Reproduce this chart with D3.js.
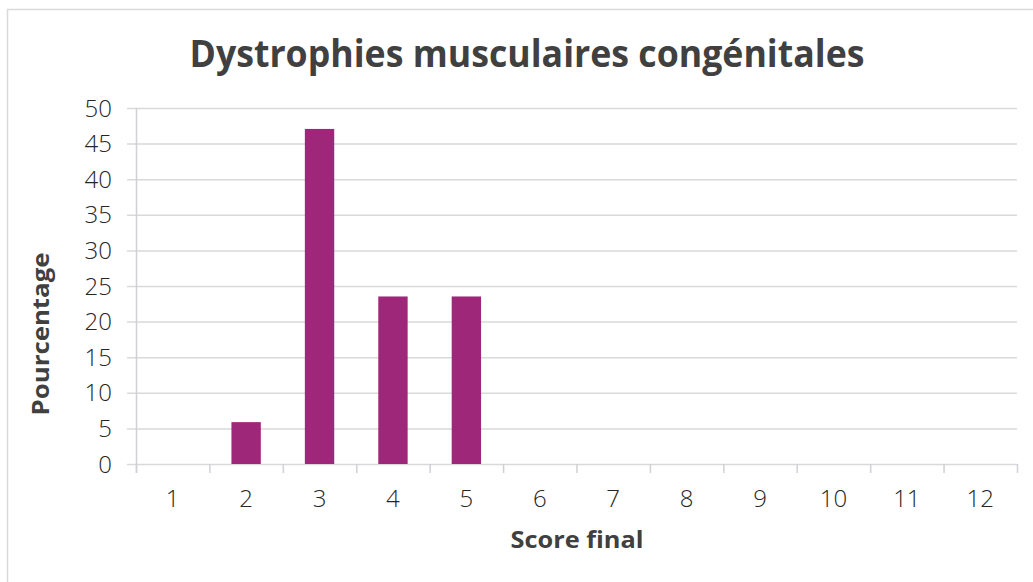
<!DOCTYPE html>
<html>
<head>
<meta charset="utf-8">
<script src="https://cdn.jsdelivr.net/npm/d3@7"></script>
<style>
  html, body { margin: 0; padding: 0; background: #fff; }
  svg { display: block; }
</style>
</head>
<body>
<svg id="chart" width="1033" height="582"></svg>
<script>
const categories = ["1","2","3","4","5","6","7","8","9","10","11","12"];
const values = [0, 5.88, 47.06, 23.53, 23.53, 0, 0, 0, 0, 0, 0, 0];
const yTicks = [0, 5, 10, 15, 20, 25, 30, 35, 40, 45, 50];
const title = "Dystrophies musculaires congénitales";
const xTitle = "Score final";
const yTitle = "Pourcentage";

const svg = d3.select("#chart");
const W = 1033, H = 582;
const m = { left: 136, right: 1017, top: 108, bottom: 464 };

// outer border
svg.append("rect").attr("x", 7.5).attr("y", 9.5).attr("width", W).attr("height", H)
  .attr("fill", "#fff").attr("stroke", "#d9d9d9").attr("stroke-width", 1.5);

const x = d3.scaleBand().domain(categories).range([m.left, m.right]).paddingInner(0.6).paddingOuter(0.3);
const xc = d3.scaleBand().domain(categories).range([m.left, m.right]);
const y = d3.scaleLinear().domain([0, 50]).range([m.bottom, m.top]);

const textFont = "'Open Sans', 'Lato', sans-serif";

// gridlines
svg.append("g").selectAll("line").data(yTicks).join("line")
  .attr("x1", m.left - 9).attr("x2", m.right)
  .attr("y1", d => y(d) + 0.5).attr("y2", d => y(d) + 0.5)
  .attr("stroke", "#d9d9d9").attr("stroke-width", 1.5);

// y axis line
svg.append("line").attr("x1", m.left + 0.5).attr("x2", m.left + 0.5)
  .attr("y1", m.top).attr("y2", m.bottom + 9)
  .attr("stroke", "#d0d0d5").attr("stroke-width", 1.5);

// x tick marks
const xTickPos = categories.map(c => xc(c)).concat([m.right]);
svg.append("g").selectAll("line").data(xTickPos).join("line")
  .attr("x1", d => d + 0.5).attr("x2", d => d + 0.5)
  .attr("y1", m.bottom).attr("y2", m.bottom + 9)
  .attr("stroke", "#d0d0d5").attr("stroke-width", 1.5);

// bars
svg.append("g").selectAll("rect").data(values.map((v, i) => ({ c: categories[i], v })).filter(d => d.v > 0)).join("rect")
  .attr("x", d => x(d.c)).attr("width", x.bandwidth())
  .attr("y", d => y(d.v)).attr("height", d => y(0) - y(d.v))
  .attr("fill", "#9e2779");

// y tick labels
svg.append("g").selectAll("text").data(yTicks).join("text")
  .attr("x", 112).attr("y", d => y(d))
  .attr("dy", "0.36em").attr("text-anchor", "end")
  .attr("font-family", textFont).attr("font-size", 24).attr("font-weight", 300)
  .attr("fill", "#262626").text(d => d);

// x tick labels
svg.append("g").selectAll("text").data(categories).join("text")
  .attr("x", d => xc(d) + xc.bandwidth() / 2).attr("y", 498)
  .attr("dy", "0.36em").attr("text-anchor", "middle")
  .attr("font-family", textFont).attr("font-size", 24).attr("font-weight", 300)
  .attr("fill", "#262626").text(d => d);

// title
svg.append("text").attr("x", 527).attr("y", 67).attr("text-anchor", "middle")
  .attr("font-family", textFont).attr("font-size", 38).attr("font-weight", "bold")
  .attr("fill", "#404040").attr("textLength", 675).attr("lengthAdjust", "spacingAndGlyphs")
  .text(title);

// x title
svg.append("text").attr("x", 577).attr("y", 548).attr("text-anchor", "middle")
  .attr("font-family", textFont).attr("font-size", 24).attr("font-weight", "bold")
  .attr("fill", "#404040").attr("textLength", 133).attr("lengthAdjust", "spacingAndGlyphs")
  .text(xTitle);

// y title
svg.append("text").attr("transform", "translate(49,334) rotate(-90)").attr("text-anchor", "middle")
  .attr("font-family", textFont).attr("font-size", 24).attr("font-weight", "bold")
  .attr("fill", "#404040").attr("textLength", 163).attr("lengthAdjust", "spacingAndGlyphs")
  .text(yTitle);
</script>
</body>
</html>
